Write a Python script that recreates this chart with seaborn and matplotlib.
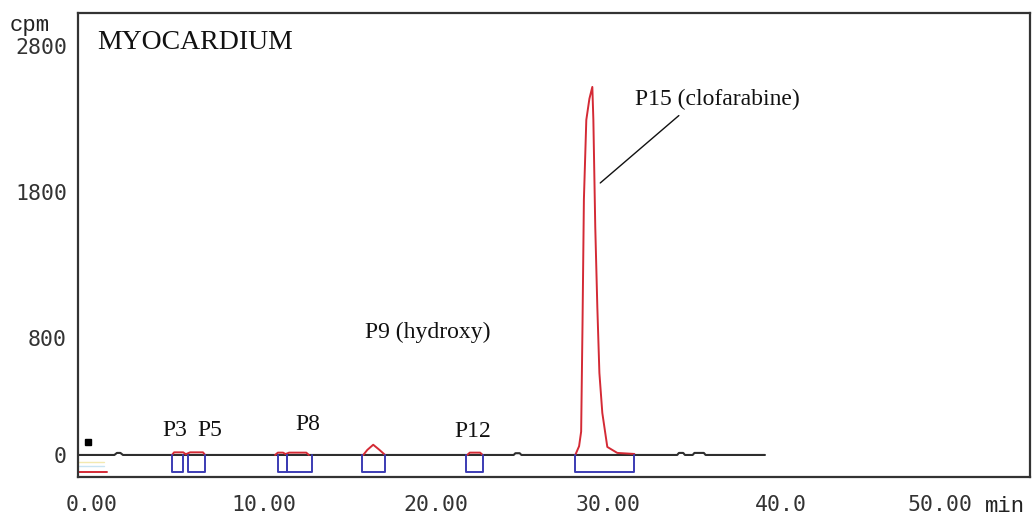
import matplotlib
matplotlib.use("Agg")
import numpy as np
import pandas as pd
import matplotlib.pyplot as plt
import matplotlib.transforms as mtransforms
import seaborn as sns

# radio-HPLC trace, myocardium: retention time (min) vs counts (cpm)
# black baseline trace
base_t = [-0.8, 1.3, 1.45, 1.65, 1.8, 24.5, 24.6, 24.85, 24.95,
          34.0, 34.1, 34.35, 34.45, 34.9, 35.0, 35.55, 35.65, 39.1]
base_cpm = [0, 0, 14, 14, 0, 0, 12, 12, 0,
            0, 14, 14, 0, 0, 14, 14, 0, 0]

# red peak segments
p3_t = [4.65, 4.77, 5.3, 5.45]
p3_cpm = [0, 18, 18, 5]
p5_t = [5.45, 5.7, 6.45, 6.57]
p5_cpm = [5, 18, 18, 0]
p8_t = [10.64, 10.8, 11.1, 11.25, 11.45, 12.45, 12.6]
p8_cpm = [0, 16, 16, 6, 16, 16, 0]
p9_t = [15.76, 16.0, 16.34, 16.7, 17.03]
p9_cpm = [0, 35, 70, 35, 0]
p12_t = [21.8, 21.95, 22.55, 22.7]
p12_cpm = [0, 16, 16, 0]
p15_t = [28.08, 28.3, 28.42, 28.5, 28.58, 28.72, 28.90, 29.07, 29.13, 29.24,
         29.36, 29.48, 29.65, 29.94, 30.52, 31.51]
p15_cpm = [0, 60, 160, 900, 1750, 2295, 2440, 2521, 2295, 1562,
           1014, 562, 288, 55, 14, 7]

# integration windows (min)
win_start = [4.65, 5.58, 10.81, 11.34, 15.70, 21.74, 28.08]
win_end = [5.29, 6.57, 11.34, 12.79, 17.03, 22.73, 31.51]
win_depth = -116

x_ticks = [0, 10, 20, 30, 40, 50]
x_labels = ["0.00", "10.00", "20.00", "30.00", "40.0", "50.00"]
y_ticks = [0, 800, 1800, 2800]
y_labels = ["0", "800", "1800", "2800"]

sns.set_theme(style="white")
plt.rcParams['font.family'] = ['Liberation Serif', 'DejaVu Serif']

fig = plt.figure(figsize=(10.35, 5.19), dpi=100)
ax = fig.add_axes([0.0754, 0.0809, 0.9198, 0.894])

red = '#d42a35'
blue = '#3b3bb3'
dark = '#2e2e2e'

sns.lineplot(x=base_t, y=base_cpm, estimator=None, sort=False, color=dark, lw=1.5, ax=ax)

peaks = [(p3_t, p3_cpm), (p5_t, p5_cpm), (p8_t, p8_cpm), (p9_t, p9_cpm),
         (p12_t, p12_cpm), (p15_t, p15_cpm)]
for t, c in peaks:
    sns.lineplot(x=t, y=c, estimator=None, sort=False, color=red, lw=1.4, ax=ax)

for s, e in zip(win_start, win_end):
    ax.plot([s, s, e, e], [0, win_depth, win_depth, 0], color=blue, lw=1.4)

# little channel keys at the left edge
ax.plot([-0.8, 0.85], [-116, -116], color=red, lw=1.4)
ax.plot([-0.8, 0.7], [-48, -48], color='#f3e9b0', lw=1)
ax.plot([-0.8, 0.7], [-75, -75], color='#c8e4f2', lw=1)
ax.plot([-0.25], [90], marker='s', ms=5, color='black')

# labels
ax.text(0.3, 2822, "MYOCARDIUM", fontsize=20, ha='left', va='center', color='#111')
ax.text(4.8, 171, "P3", fontsize=17, ha='center', va='center', color='#111')
ax.text(6.86, 171, "P5", fontsize=17, ha='center', va='center', color='#111')
ax.text(12.53, 212, "P8", fontsize=17, ha='center', va='center', color='#111')
ax.text(15.87, 842, "P9 (hydroxy)", fontsize=17, ha='left', va='center', color='#111')
ax.text(22.12, 164, "P12", fontsize=17, ha='center', va='center', color='#111')
ax.annotate("P15 (clofarabine)", xy=(29.53, 1863), xytext=(31.57, 2432),
            fontsize=17, ha='left', va='center', color='#111',
            arrowprops=dict(arrowstyle='-', color='#111', lw=1,
                            shrinkA=2, shrinkB=0, relpos=(0.3, 0)))

ax.set_xlim(-0.81, 54.5)
ax.set_ylim(-151, 3027)
ax.set_xticks(x_ticks)
ax.set_xticklabels(x_labels)
ax.set_yticks(y_ticks)
ax.set_yticklabels(y_labels)
ax.tick_params(axis='x', length=0, pad=13, labelsize=15.5, labelcolor='#333')
ax.tick_params(axis='y', length=0, pad=8, labelsize=15.5, labelcolor='#333')
for lab in ax.get_xticklabels() + ax.get_yticklabels():
    lab.set_family('DejaVu Sans Mono')
# last label sits a bit left in the original, next to the unit
shift = mtransforms.ScaledTranslation(-0.13, 0, fig.dpi_scale_trans)
last = ax.get_xticklabels()[-1]
last.set_transform(last.get_transform() + shift)
ax.set_xlabel("")
ax.set_ylabel("")

for sp in ax.spines.values():
    sp.set_visible(True)
    sp.set_color('#333')
    sp.set_linewidth(1.6)

fig.text(30 / 1035, 1 - 25 / 519, "cpm", family='Liberation Mono', fontsize=16,
         ha='center', va='center', color='#222')
fig.text(985 / 1035, 1 - 506 / 519, "min", family='Liberation Mono', fontsize=16,
         ha='left', va='center', color='#222')

fig.savefig("out.png", dpi=100)
